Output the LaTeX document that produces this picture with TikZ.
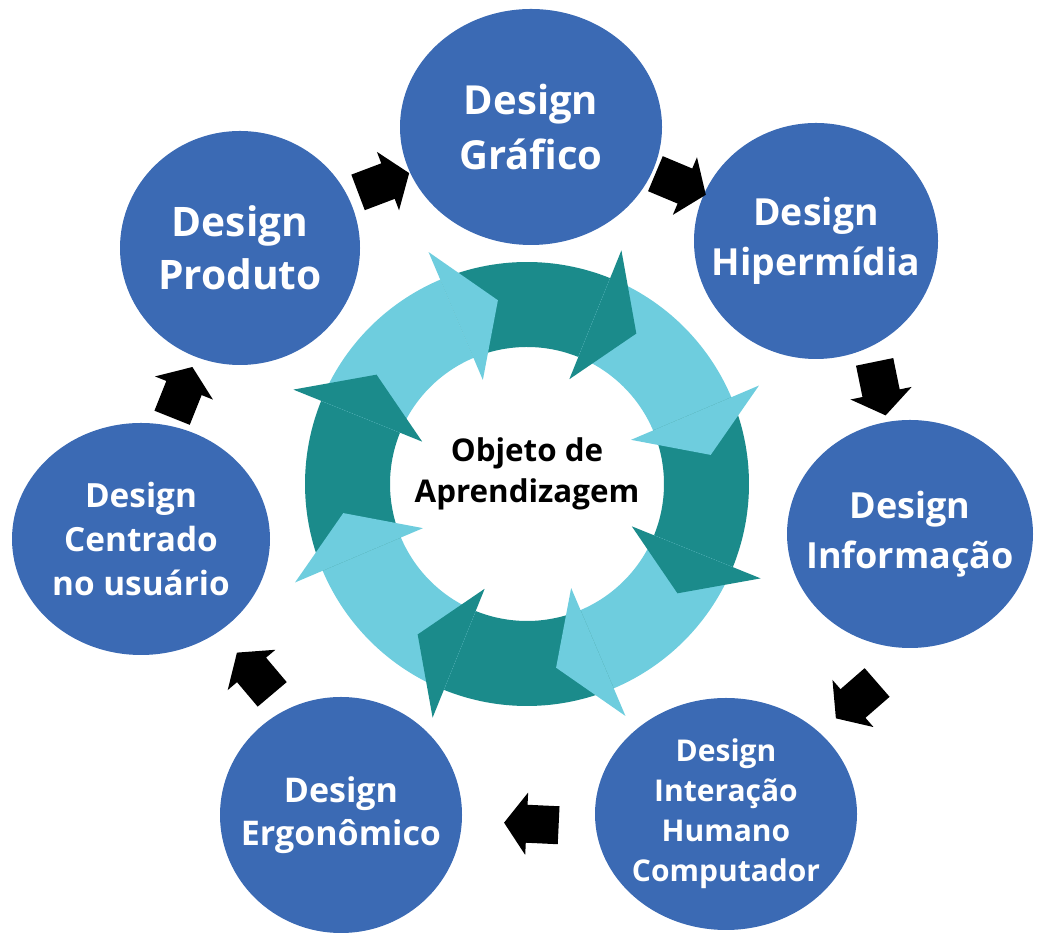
\documentclass[tikz,border=0pt]{standalone}
\usepackage{fontspec}
\setmainfont{Open Sans}
\usetikzlibrary{shapes.geometric,arrows.meta,calc}
\definecolor{dsblue}{RGB}{59,106,180}
\definecolor{teald}{RGB}{27,139,139}
\definecolor{tealc}{RGB}{110,205,222}
\begin{document}
\begin{tikzpicture}[
    x=0.75pt, y=0.75pt,
    topic/.style={ellipse, fill=dsblue, text=white, align=center,
                  inner xsep=-30pt, inner ysep=-10pt},
    center/.style={text=black, align=center, inner sep=0pt},
    blk/.style={line width=28.5pt, -{Triangle[length=17pt,width=46pt]}}
  ]
    \useasboundingbox (0,0) rectangle (1039,934);
    \coordinate (ring) at (527,450);

    % ring of arrows
    \foreach \a/\col in {68/teald, 23/tealc, -22/teald, -67/tealc,
                         -112/teald, -157/tealc, 158/teald, 113/tealc}
      \fill[\col, shift={(ring)}] ({\a+45}:137) arc[start angle=\a+45, end angle=\a, radius=137]
        -- (\a:222) arc[start angle=\a, end angle=\a+45, radius=222] -- cycle;
    \foreach \a/\col in {68/teald, 23/tealc, -22/teald, -67/tealc,
                         -112/teald, -157/tealc, 158/teald, 113/tealc}
      \fill[\col, shift={(ring)}] (\a:113) -- ({\a-14}:186) -- (\a:252) -- cycle;

    \node[center, font=\fontsize{23.5}{31}\selectfont\bfseries] (obj) at (527,460) {Objeto de\\Aprendizagem};

    \node[topic, minimum width=196.5pt, minimum height=177pt, font=\fontsize{30}{41}\selectfont\bfseries]
      (graf)  at (531,807) {Design\\Gráfico};
    \node[topic, minimum width=183pt, minimum height=177pt, font=\fontsize{28}{37.5}\selectfont\bfseries]
      (hiper) at (816,693) {Design\\Hipermídia};
    \node[topic, minimum width=184.5pt, minimum height=171pt, font=\fontsize{27}{37.5}\selectfont\bfseries]
      (info)  at (910,400) {Design\\Informação};
    \node[topic, minimum width=196.5pt, minimum height=174pt, font=\fontsize{22.5}{30}\selectfont\bfseries]
      (ihc)   at (726,120) {Design\\Interação\\Humano\\Computador};
    \node[topic, minimum width=181.5pt, minimum height=177pt, font=\fontsize{25.5}{32}\selectfont\bfseries]
      (ergo)  at (341,119) {Design\\Ergonômico};
    \node[topic, minimum width=193.5pt, minimum height=174pt, font=\fontsize{25}{33}\selectfont\bfseries]
      (centr) at (141,395) {Design\\Centrado\\no usuário};
    \node[topic, minimum width=180pt, minimum height=175.5pt, font=\fontsize{30.5}{40}\selectfont\bfseries]
      (prod)  at (240,686) {Design\\Produto};

    \coordinate (a1) at (383,751);
    \coordinate (a2) at (680,750);
    \coordinate (a3) at (880,546);
    \coordinate (a4) at (857,234);
    \coordinate (a5) at (532,110);
    \coordinate (a6) at (255,260);
    \coordinate (a7) at (182,541);

    \draw[blk] ($(a1)!-20pt!(graf)$)  -- ($(a1)!21pt!(graf)$);
    \draw[blk] ($(a2)!-20pt!(hiper)$) -- ($(a2)!21pt!(hiper)$);
    \draw[blk] ($(a3)!-20pt!(info)$)  -- ($(a3)!21pt!(info)$);
    \draw[blk] ($(a4)!-20pt!(ihc)$)   -- ($(a4)!21pt!(ihc)$);
    \draw[blk] ($(a5)!-20pt!(ergo)$)  -- ($(a5)!21pt!(ergo)$);
    \draw[blk] ($(a6)!-20pt!(centr)$) -- ($(a6)!21pt!(centr)$);
    \draw[blk] ($(a7)!-20pt!(prod)$)  -- ($(a7)!21pt!(prod)$);
  \end{tikzpicture}
\end{document}
